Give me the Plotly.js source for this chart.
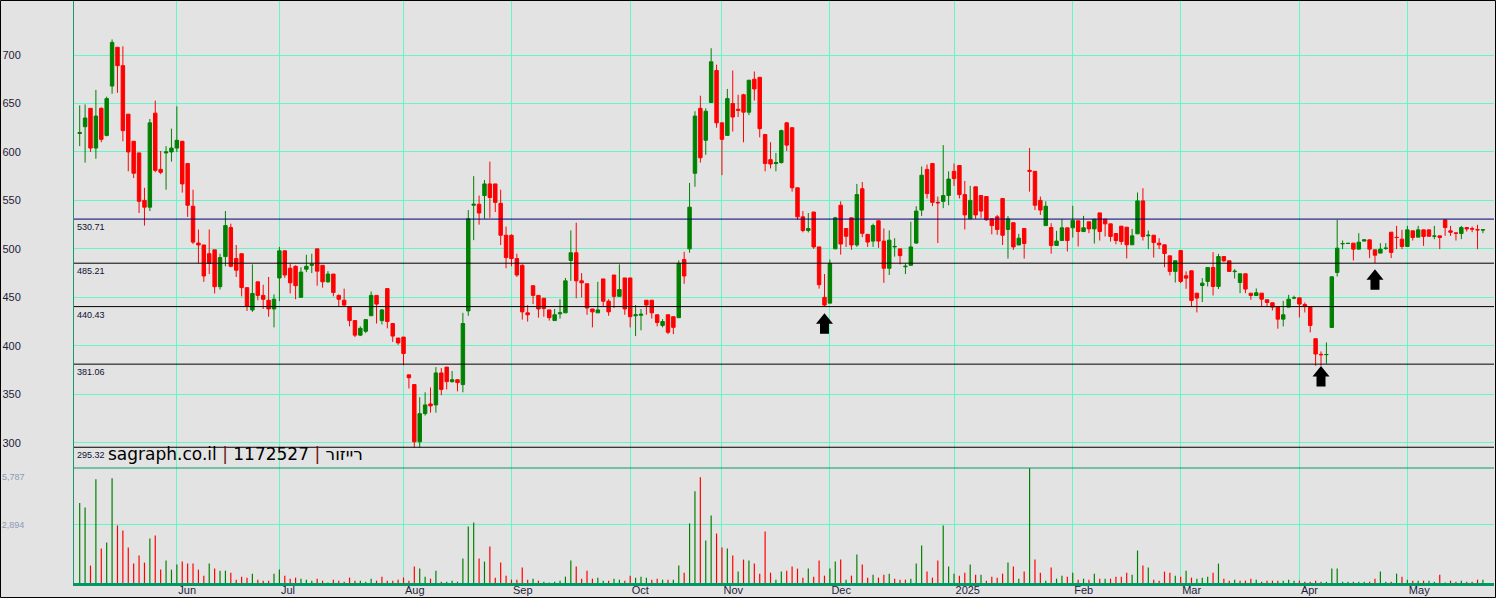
<!DOCTYPE html>
<html>
<head>
<meta charset="utf-8">
<script src="https://cdn.plot.ly/plotly-3.0.1.min.js"></script>
<style>
html,body{margin:0;padding:0;background:#e3e3e3;}
#chart{width:1496px;height:598px;}
</style>
</head>
<body>
<div id="chart"></div>
<script>
// ---- data ----
const opens = [
619,626,645,604,645,617,668,708,689,639,
611,599,550,543,640,582,599,600,604,611,
588,544,506,504,495,499,461,492,522,490,
495,460,437,466,452,447,438,470,498,480,
482,450,479,483,500,483,466,474,452,447,
440,426,411,415,431,452,426,459,423,408,
409,370,360,301,330,340,339,372,378,363,
365,360,436,545,546,555,567,567,547,514,
514,490,483,434,462,452,449,437,426,433,
434,488,496,467,464,438,434,469,446,473,
451,470,470,431,431.5,447,447,432,421,432,
430,429,489,500,578,645,612,651,684,630,
617,650,644,659,641,675,677,618,592,588,
589,630,625,563,533,519,538,502,450,444,
500,545,521,532,504,562,515,508,529,508,
480,502,500,481.5,483,506,540,582,588,548,
549,555,580,586,556,531,564,555,554,531,
533,552,520,527,504,521,581,580,550,524,
522,503.5,508.6,521.7,521.7,528.9,517.9,527.9,520.6,537.1,
530.6,525.8,515.8,523.4,522.4,504.2,515.5,549.5,513.5,514.1,
505.9,504.2,492.8,476.7,498.3,472.2,477.4,454.3,462.2,466.4,
480.8,461.2,492.1,487.7,476.5,465.3,474.3,454.3,451.9,454.3,
447.5,444.4,439.9,427.5,439.9,449.3,449.5,442.6,439.9,407.3,
391.2,390.8,418.9,475.6,505.2,505.5,505.9,499.7,508,509.3,
499,495.6,500.4,517.2,511.9,510,502.5,518.6,512.1,519.6,
519.6,513,513.4,529.9,518.6,516.4,515.8,522,520.8,519.8,
519.4];
const highs = [
648,649,645,664,646,657,716,708,709,639,
611,599,563,634,653,601,606,624,647,611,
588,561,520,504,520,499,495,539,526,504,
495,460,484,466,463,471,453,502,498,485,
483,481,494,495,500,483,477,474,453,459,
440,426,420,427,456,452,438,459,423,408,
409,370,360,347,352,357,378,377,378,374,
365,434,540,575,555,571,590,567,561,523,
515,495,484,442,462,452,449,437,438,448,
470,519,527,475,464,438,466,469,448,473,
484,470,470,442,438,447,447,432,427.5,432,
430,488,497,568,642,658,645,707,690,630,
665,684,659,660,674,683,677,618,610,599,
623,631,625,563,539,537,538,502,474,489,
533,549,521,532,567,569,515,526,529,521,
519,511,500,485,528,544,585,587,588,554,
607,580,588,586,570,565,564,555,554,531,
535,552,534,527,515.5,521,604,580,554,549,
526.5,518.6,530.6,521.7,544.4,528.9,534,527.9,530.6,537.1,
530.6,525.8,515.8,523.4,522.4,520.6,558.1,562.6,518.9,514.1,
511,504.2,492.8,487.7,498.3,476.7,477.4,454.3,469.8,480.8,
496.6,494.9,492.1,487.7,479.1,474.3,474.3,454.3,459.2,454.3,
447.5,444.4,439.9,446.4,452.6,451.7,449.5,444.7,439.9,407.3,
394.2,403.5,471.2,529.9,508.6,506,505.9,516.2,510,509.3,
499,505.9,505.9,517.2,523.7,519.6,523.7,518.6,523.7,519.6,
519.6,523.7,513.4,530.6,523.7,516.4,523.7,522,523.1,524.8,
519.6];
const lows = [
606,589,600,593,610,616,660,661,611,580,
573,537,524,539,579,577,561,590,600,558,
533,505,485,466,474,454,458,482,481,471,
451,436,435,447,438,430,419,446,470,454,
448,450,476,475,462,460,465,451,441,441,
420,409,410,413,431,423,422,418,404,401,
380,356,295,295,328,331,331,349,355,362,
353,352,431,509,525,531,532,538,504,480,
482,471,427,425,443,429,430,426,426,428,
434,467,449,450,432,419,434,441,431,439,
451,432,419,410,416,432,428,420,419,412,
412,429,464,496,564,589,597,651,625,576,
617,621,636,610,638,653,615,580,583,580,
588,601,559,530,517,517,500,459,440.5,444,
500,494,502,499,502,512,502,502,501,465,
473,492,484,474,483,505,534,552,544,506,
542,545,565,552,520,531,531,532,529,515,
514.5,504,490,499,504,490,559,540,535,524,
495,503.5,508.6,497.3,511.7,502.5,517.2,516.2,505.5,508.6,
512.8,507.6,504.8,504.2,490.1,504.2,515.5,508.6,499.7,491.1,
499.7,481.1,472.6,465.3,464.6,458.8,440.6,434.4,445.1,461.2,
451.9,458.5,486.3,476.7,469.4,454.3,454.3,447.5,451.9,440.6,
440.6,436.5,417.6,420,439.9,448.1,429.2,434.4,413.8,379.4,
379.4,381.5,418.9,471.5,499.7,505,488,499.7,508,490.4,
485.3,495.6,499,490.4,499.7,499.7,502.5,508.6,512.1,503.1,
512.8,510,499.7,513.4,513.4,508.6,510,517.9,517.2,499.7,
516.2];
const closes = [
620,635,604,637,613,655,713,689,622,600,
578,549,543,630,581,579,600,604,612,567,
545,507,504,472,485,461,491,524,482,478,
460,441,454,452,448,438,448,498,473,465,
462,476,482,484,477,466,474,455,448,442,
426,411,418,427,452,443,437,425,410,403,
392,367,301,330,339,338,372,355,363,365,
362,423,531,546,537,567,553,548,514,491,
490,473,435,432,452,438,438.5,429,432,434,
467,496,467,465,439,435,437,446,435,451,
458,438,430,432,432.5,442,434,424,425,414,
419,485,472,543,637,594,642,693,630,613,
655,636,643,641,674,665,624,588,587.5,589,
622,607,563,533,519,521,502,463,442,485,
532,505,513,504,556,516,507,524,508,480,
509,502.5,493,482,502,539,576,557,548,547.5,
555,572,572.5,556,535,550,535,539,530,524,
520,514,531,502,511,505.5,580,545,540,544,
503.5,508,521.7,508.6,529.2,517.9,521.7,520.6,530.6,517.9,
525.8,512.8,508.6,507.6,504.2,513.4,549.5,512.8,514.1,506.6,
504.2,495.2,476.7,487.7,466.4,469.8,446.8,449.2,464.6,480.8,
461.2,492.1,487.7,476.7,476.9,474.3,458.5,451.9,454.7,448.1,
444.7,439.9,427.5,432,448.1,449.5,443,440.6,421,391.5,
390.8,391,471.2,500.7,505.5,505.7,499.7,506.9,509.3,499.7,
493.5,499.7,500.7,496.3,511.7,502.5,519.6,511.7,519.6,512.8,
513,513.2,511.7,522,517.2,516.2,522,520.6,520.4,519.6,
519.7];
const volumes = [
3955,3740,861,5130,1705,2003,5180,2847,2598,1754,
960,1357,1010,2201,2350,662,1109,662,910,1059,
960,960,662,364,960,712,612,612,513,166,
314,265,463,166,116,116,463,662,364,215,
265,215,166,116,215,116,20,166,116,66,
265,116,116,66,215,116,314,116,116,166,
270,116,811,712,314,215,612,66,66,116,
66,1208,2797,2996,1208,1059,1804,265,1010,364,
166,166,761,166,215,116,66,20,66,116,
314,1109,811,215,612,215,265,116,116,215,
166,116,364,265,314,265,166,215,166,166,
166,861,513,2946,4535,5230,2102,3343,2449,1754,
1705,1357,563,1159,1109,960,463,2549,513,166,
563,612,811,712,265,712,314,1109,364,712,
1059,1159,166,364,1407,910,265,414,265,414,
463,215,166,166,215,960,1854,563,265,1109,
2847,811,463,364,513,910,414,414,116,314,
265,463,1010,811,215,563,5776,1159,513,116,
761,215,364,314,513,166,215,166,463,215,
215,215,314,314,513,414,1605,861,761,166,
116,563,513,364,314,612,265,215,265,314,
513,960,215,116,166,116,116,215,166,66,
116,116,116,116,166,116,116,66,66,116,
66,66,712,712,66,66,66,66,66,66,
215,563,66,66,463,314,166,116,116,116,
116,66,414,20,116,66,116,66,66,166,
166];

// month boundaries (trading-day index of first session of each month)
const monthStartIdx = [18, 37, 60, 80, 102, 119, 139, 162, 184, 204, 226, 246];
const monthLabels = ['Jun','Jul','Aug','Sep','Oct','Nov','Dec','2025','Feb','Mar','Apr','May'];

// price axis ticks
const priceTicks = [300, 350, 400, 450, 500, 550, 600, 650, 700];
// volume axis labels
const volTickGrid = 2894;
const volTickTop = 5787;

// horizontal support / resistance levels
const levelValues = [530.71, 485.21, 440.43, 381.06, 295.32];

// arrow markers: candle index and the price the tip points at
const arrowIdx = [138, 230, 240];
const arrowTip = [433.5, 379.2, 478.9];

const siteName = 'sagraph.co.il';
const securityId = '1172527';
const securityName = 'רייזור';

// ---- build ----
const n = opens.length;
const idx = Array.from({length: n}, (_, i) => i);
const volColors = closes.map((c, i) => (i === 0 || c >= closes[i - 1]) ? '#008000' : '#ff0000');

const GRID = '#62f7c6';
const BG = '#e3e3e3';
const AXIS_GREEN = '#1a9970';
const TXT = '#1c1c3a';
const FONT = 'Liberation Sans, Arial, sans-serif';

// geometry helpers (plot area: x 74..1494, y 1..583)
const PL = 74, PR = 1494, PT = 1, PB = 583;
const volDomTop = (PB - 468) / (PB - PT);
const px2paperX = p => (p - PL) / (PR - PL);
const py2paperY = p => (PB - p) / (PB - PT);

const candle = {
  type: 'candlestick',
  x: idx, open: opens, high: highs, low: lows, close: closes,
  xaxis: 'x', yaxis: 'y',
  increasing: {line: {color: '#008000', width: 1}, fillcolor: '#008000'},
  decreasing: {line: {color: '#ff0000', width: 1}, fillcolor: '#ff0000'},
  whiskerwidth: 0,
  hoverinfo: 'skip'
};

const vol = {
  type: 'bar',
  x: idx, y: volumes,
  xaxis: 'x', yaxis: 'y2',
  width: 0.22,
  marker: {color: volColors, line: {width: 0}},
  cliponaxis: false,
  hoverinfo: 'skip'
};

const shapes = [];
// cover strip behind the watermark (hides gridlines there)
shapes.push({type: 'rect', xref: 'paper', yref: 'paper',
  x0: 0, x1: px2paperX(363), y0: volDomTop, y1: py2paperY(441.5),
  fillcolor: BG, line: {width: 0}, layer: 'between'});
// level lines
levelValues.forEach((v, k) => {
  shapes.push({type: 'line', xref: 'paper', yref: 'y', x0: 0, x1: 1, y0: v, y1: v,
    line: {color: k === 0 ? '#000070' : '#000000', width: 1}, layer: 'above'});
});
// volume panel top separator
shapes.push({type: 'line', xref: 'paper', yref: 'paper', x0: 0, x1: 1, y0: volDomTop, y1: volDomTop,
  line: {color: '#0a9968', width: 1.2}, layer: 'above'});
// arrows
arrowIdx.forEach((xi, k) => {
  shapes.push({type: 'path', xref: 'x', yref: 'y', xsizemode: 'pixel', ysizemode: 'pixel',
    xanchor: xi, yanchor: arrowTip[k],
    path: 'M 0 0 L 8.5 -10.5 L 4.5 -10.5 L 4.5 -20.5 L -4.5 -20.5 L -4.5 -10.5 L -8.5 -10.5 Z',
    fillcolor: '#000000', line: {width: 0}, layer: 'above'});
});
// outer frame of the picture
shapes.push({type: 'rect', xref: 'paper', yref: 'paper',
  x0: px2paperX(0.5), x1: px2paperX(1495.5), y0: py2paperY(597.5), y1: py2paperY(0.5),
  line: {color: '#000000', width: 1}, fillcolor: 'rgba(0,0,0,0)', layer: 'above'});

const annotations = [];
levelValues.forEach(v => {
  annotations.push({xref: 'paper', yref: 'y', x: 0, y: v, xanchor: 'left', yanchor: 'top',
    xshift: 1, yshift: -1, showarrow: false, text: v.toFixed(2),
    font: {family: FONT, size: 9, color: '#101030'}});
});
annotations.push({xref: 'paper', yref: 'paper', x: 0, y: volDomTop, xanchor: 'right', yanchor: 'middle',
  xshift: -47, yshift: -9, showarrow: false, text: volTickTop.toLocaleString('en-US'),
  font: {family: FONT, size: 9, color: '#8a9bb5'}});
annotations.push({xref: 'paper', yref: 'paper', x: 0, y: volDomTop, xanchor: 'left', yanchor: 'bottom',
  xshift: 32, yshift: 2, showarrow: false,
  text: siteName + ' <span style="color:#6a1010">|</span> ' + securityId + ' <span style="color:#6a1010">|</span> ' + securityName,
  font: {family: 'DejaVu Sans, sans-serif', size: 17, color: '#000000'}});

const layout = {
  width: 1496, height: 598,
  margin: {l: PL, r: 1496 - PR, t: PT, b: 598 - PB, pad: 0},
  paper_bgcolor: BG, plot_bgcolor: BG,
  showlegend: false,
  boxgap: 0.2, boxgroupgap: 0.2,
  xaxis: {
    range: [(PL - 79.7) / 5.397, (PR - 79.7) / 5.397],
    anchor: 'y2',
    tickmode: 'array', tickvals: monthStartIdx, ticktext: monthLabels,
    ticks: '', ticklabelposition: 'outside right', ticklabelstandoff: -5,
    showgrid: true, gridcolor: GRID, gridwidth: 1, zeroline: false,
    showline: true, linecolor: '#009966', linewidth: 3,
    tickfont: {family: FONT, size: 11, color: TXT},
    rangeslider: {visible: false}, fixedrange: true
  },
  yaxis: {
    domain: [volDomTop, 1],
    range: [700 - (468 - 55) / 0.9693, 700 + (55 - 1) / 0.9693],
    tickmode: 'array', tickvals: priceTicks,
    ticks: '', showgrid: true, gridcolor: GRID, gridwidth: 1, zeroline: false,
    showline: true, linecolor: AXIS_GREEN, linewidth: 1,
    ticklabelstandoff: 50,
    tickfont: {family: FONT, size: 11, color: TXT}, fixedrange: true
  },
  yaxis2: {
    domain: [0, volDomTop],
    range: [0, (PB - 468) * volTickGrid / 58.5],
    tickmode: 'array', tickvals: [volTickGrid], ticktext: [volTickGrid.toLocaleString('en-US')],
    ticks: '', showgrid: true, gridcolor: GRID, gridwidth: 1, zeroline: false,
    showline: true, linecolor: AXIS_GREEN, linewidth: 1,
    ticklabelstandoff: 47,
    tickfont: {family: FONT, size: 9, color: '#8a9bb5'}, fixedrange: true
  },
  shapes: shapes,
  annotations: annotations
};

Plotly.newPlot('chart', [vol, candle], layout, {staticPlot: true, displayModeBar: false});
</script>
</body>
</html>
